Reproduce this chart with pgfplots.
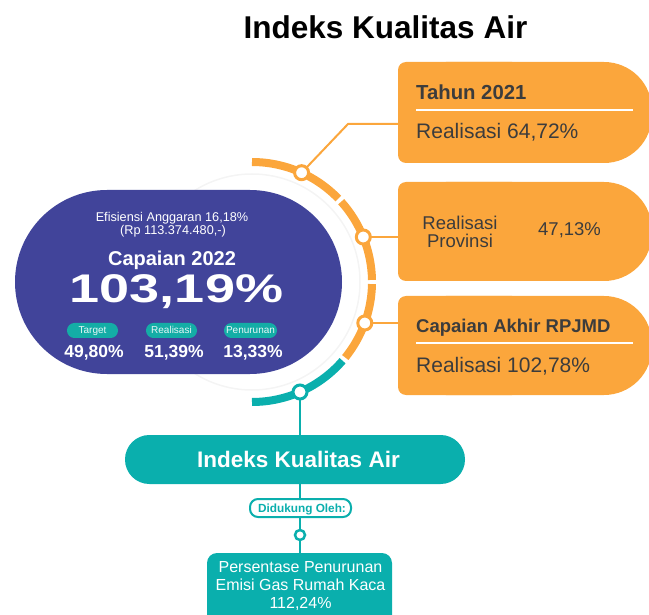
\documentclass[border=0pt]{standalone}
\usepackage{fontspec}
\setmainfont{Liberation Sans}
\usepackage{pgfplots}
\pgfplotsset{compat=1.18}
\definecolor{blu}{HTML}{41449A}
\definecolor{org}{HTML}{FBA63C}
\definecolor{tea}{HTML}{0AAFAD}
\definecolor{tea2}{HTML}{14ADA6}
\definecolor{dk}{HTML}{3C3C3C}
\newcommand\fs[1]{\fontsize{#1}{#1}\selectfont}
% ring centre (px) and radius
\newcommand\cx{252}
\newcommand\cy{282}
\begin{document}
\begin{tikzpicture}
\begin{axis}[
    scale only axis,
    width=649pt, height=615pt,
    xmin=0, xmax=649, ymin=0, ymax=615,
    y dir=reverse,
    hide axis,
]
% title
\node[anchor=base, inner sep=0, font=\fs{31.5}\bfseries, text=black] at (axis cs:385.5,39) {Indeks Kualitas Air};

% faint ring and blue block
\draw[gray!9, line width=1.5pt] (axis cs:\cx,\cy) circle[radius=108pt];
\fill[blu, rounded corners=91.9pt] (axis cs:15,190) rectangle (axis cs:342,374);

% orange / teal ring
\draw[org, line width=8pt] (axis cs:\cx,162) arc[start angle=90, end angle=44, radius=120pt];
\draw[org, line width=8pt] (axis cs:{\cx+120*cos(42)},{\cy-120*sin(42)}) arc[start angle=42, end angle=1, radius=120pt];
\draw[org, line width=8pt] (axis cs:{\cx+120*cos(-1)},{\cy-120*sin(-1)}) arc[start angle=-1, end angle=-39, radius=120pt];
\draw[tea, line width=8pt] (axis cs:{\cx+120*cos(-41)},{\cy-120*sin(-41)}) arc[start angle=-41, end angle=-90, radius=120pt];

% connectors
\addplot[org, line width=2pt] coordinates {(301.6,172.7) (348,124) (400,124)};
\addplot[org, line width=2pt] coordinates {(363.3,237) (400,237)};
\addplot[org, line width=2pt] coordinates {(364.8,323) (400,323)};
\addplot[tea, line width=2.5pt] coordinates {(300,392) (300,560)};

% nodes on the ring
\addplot[only marks, mark=*, mark size=7pt, mark options={draw=org, fill=white, line width=3pt}]
    coordinates {(301.6,172.7) (363.3,237) (364.8,323)};
\addplot[only marks, mark=*, mark size=7pt, mark options={draw=tea, fill=white, line width=3pt}]
    coordinates {(300,392)};
\addplot[only marks, mark=*, mark size=5pt, mark options={draw=tea, fill=white, line width=2.5pt}]
    coordinates {(300,535)};

% orange boxes
\fill[org, rounded corners=48pt] (axis cs:398,62) rectangle (axis cs:652,163);
\fill[org, rounded corners=8pt] (axis cs:398,62) rectangle (axis cs:520,163);
\fill[org, rounded corners=48pt] (axis cs:398,182) rectangle (axis cs:652,281);
\fill[org, rounded corners=8pt] (axis cs:398,182) rectangle (axis cs:520,281);
\fill[org, rounded corners=48pt] (axis cs:398,296) rectangle (axis cs:652,395);
\fill[org, rounded corners=8pt] (axis cs:398,296) rectangle (axis cs:520,395);
\draw[white, line width=1.5pt] (axis cs:416,110) -- (axis cs:633,110);
\draw[white, line width=1.5pt] (axis cs:416,343) -- (axis cs:633,343);

\node[anchor=base west, inner sep=0, font=\fs{20.3}\bfseries, text=dk] at (axis cs:416,100) {Tahun 2021};
\node[anchor=base west, inner sep=0, font=\fs{21}, text=dk] at (axis cs:416,139) {Realisasi 64,72\%};
\node[anchor=base, inner sep=0, font=\fs{18.5}, text=dk] at (axis cs:460,230) {Realisasi};
\node[anchor=base, inner sep=0, font=\fs{18.5}, text=dk] at (axis cs:460,248) {Provinsi};
\node[anchor=base west, inner sep=0, font=\fs{18.5}, text=dk] at (axis cs:538,236) {47,13\%};
\node[anchor=base west, inner sep=0, font=\fs{18.5}\bfseries, text=dk] at (axis cs:416,333) {Capaian Akhir RPJMD};
\node[anchor=base west, inner sep=0, font=\fs{21}, text=dk] at (axis cs:416,372) {Realisasi 102,78\%};

% blue block texts
\node[anchor=base, inner sep=0, font=\fs{12.7}, text=white] at (axis cs:172,222) {Efisiensi Anggaran 16,18\%};
\node[anchor=base, inner sep=0, font=\fs{12.7}, text=white] at (axis cs:173,235) {(Rp 113.374.480,-)};
\node[anchor=base, inner sep=0, font=\fs{20}\bfseries, text=white] at (axis cs:172,266) {Capaian 2022};
\node[anchor=base, inner sep=0, font=\fs{40}\bfseries\addfontfeature{FakeStretch=1.35}, text=white] at (axis cs:176.5,302) {103,19\%};

\fill[tea2, rounded corners=7.4pt] (axis cs:67,323) rectangle (axis cs:118,338);
\fill[tea2, rounded corners=7.4pt] (axis cs:146,323) rectangle (axis cs:197,338);
\fill[tea2, rounded corners=7.4pt] (axis cs:224,323) rectangle (axis cs:277,338);
\node[anchor=base, inner sep=0, font=\fs{10}, text=white!90!tea] at (axis cs:92.5,334) {Target};
\node[anchor=base, inner sep=0, font=\fs{10}, text=white!90!tea] at (axis cs:171.5,334) {Realisasi};
\node[anchor=base, inner sep=0, font=\fs{10}, text=white!90!tea] at (axis cs:250.5,334) {Penurunan};
\node[anchor=base, inner sep=0, font=\fs{17.5}\bfseries, text=white] at (axis cs:94,357) {49,80\%};
\node[anchor=base, inner sep=0, font=\fs{17.5}\bfseries, text=white] at (axis cs:174,357) {51,39\%};
\node[anchor=base, inner sep=0, font=\fs{17.5}\bfseries, text=white] at (axis cs:253,357) {13,33\%};

% teal part
\fill[tea, rounded corners=24.4pt] (axis cs:125,435) rectangle (axis cs:465,484);
\node[anchor=base, inner sep=0, font=\fs{22.5}\bfseries, text=white] at (axis cs:298.5,467) {Indeks Kualitas Air};
\filldraw[fill=white, draw=tea, line width=2pt, rounded corners=8pt] (axis cs:250,499) rectangle (axis cs:351,517);
\node[anchor=base, inner sep=0, font=\fs{11.8}\bfseries, text=tea] at (axis cs:302,512) {Didukung Oleh:};
\fill[tea, rounded corners=10pt] (axis cs:207,553) rectangle (axis cs:392,640);
\node[anchor=base, inner sep=0, font=\fs{16}, text=white] at (axis cs:300.5,572) {Persentase Penurunan};
\node[anchor=base, inner sep=0, font=\fs{16}, text=white] at (axis cs:300.5,590) {Emisi Gas Rumah Kaca};
\node[anchor=base, inner sep=0, font=\fs{16}, text=white] at (axis cs:300.5,608) {112,24\%};
\end{axis}
\pgfresetboundingbox
\useasboundingbox (current axis.south west) rectangle (current axis.north east);
\end{tikzpicture}
\end{document}
